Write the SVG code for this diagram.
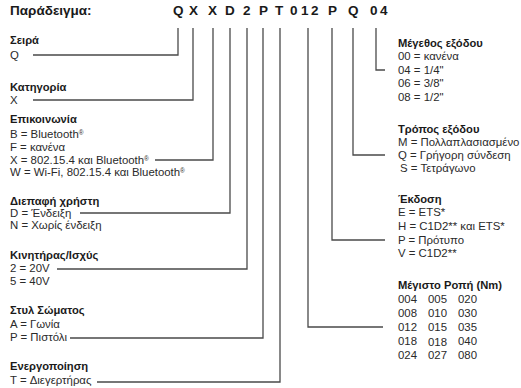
<svg xmlns="http://www.w3.org/2000/svg" width="521" height="388" viewBox="0 0 521 388">
<style>
.h{font-family:"Liberation Sans",Arial,sans-serif;font-weight:bold;font-size:11.2px;fill:#1a1a1a}
.t{font-family:"Liberation Sans",Arial,sans-serif;font-size:11.4px;fill:#2a2a2a}
.big{font-family:"Liberation Sans",Arial,sans-serif;font-weight:bold;font-size:13.5px;fill:#1a1a1a}
.sup{font-size:6.5px}
.c{fill:none;stroke:#4a4a4a;stroke-width:1.3}
</style>
<rect width="521" height="388" fill="#fff"/>
<g id="title">
<text class="big" x="10" y="15">Παράδειγμα:</text>
<text class="big" y="15"><tspan x="173">Q</tspan><tspan x="189">X</tspan><tspan x="208">X</tspan><tspan x="225">D</tspan><tspan x="243">2</tspan><tspan x="259">P</tspan><tspan x="275">T</tspan><tspan x="290">0</tspan><tspan x="301">1</tspan><tspan x="311">2</tspan><tspan x="328">P</tspan><tspan x="348">Q</tspan><tspan x="370">0</tspan><tspan x="380">4</tspan></text>
</g>
<g id="connectors">
<path class="c" d="M178 28V55H33"/>
<path class="c" d="M193 28V100H33"/>
<path class="c" d="M213 28V160H155"/>
<path class="c" d="M230 28V213H80"/>
<path class="c" d="M247 28V269H57"/>
<path class="c" d="M263 28V338H70"/>
<path class="c" d="M280 28V382H97"/>
<path class="c" d="M308 28V327H383"/>
<path class="c" d="M332 28V240H385"/>
<path class="c" d="M353 28V155H385"/>
<path class="c" d="M376 28V70H385"/>
</g>
<g id="seira">
<text class="h" x="10" y="44">Σειρά</text>
<text class="t" x="10" y="59">Q</text>
</g>
<g id="katigoria">
<text class="h" x="10" y="91">Κατηγορία</text>
<text class="t" x="10" y="104">X</text>
</g>
<g id="epikoinonia">
<text class="h" x="10" y="123">Επικοινωνία</text>
<text class="t" x="10" y="138">B = Bluetooth<tspan class="sup" dy="-3">®</tspan></text>
<text class="t" x="10" y="151">F = κανένα</text>
<text class="t" x="10" y="164">X = 802.15.4 και Bluetooth<tspan class="sup" dy="-3">®</tspan></text>
<text class="t" x="10" y="176">W = Wi-Fi, 802.15.4 και Bluetooth<tspan class="sup" dy="-3">®</tspan></text>
</g>
<g id="diepafi">
<text class="h" x="10" y="205">Διεπαφή χρήστη</text>
<text class="t" x="10" y="217">D = Ένδειξη</text>
<text class="t" x="10" y="229">N = Χωρίς ένδειξη</text>
</g>
<g id="kinitiras">
<text class="h" x="10" y="259">Κινητήρας/Ισχύς</text>
<text class="t" x="10" y="272">2 = 20V</text>
<text class="t" x="10" y="285">5 = 40V</text>
</g>
<g id="stil">
<text class="h" x="10" y="314">Στυλ Σώματος</text>
<text class="t" x="10" y="328">A = Γωνία</text>
<text class="t" x="10" y="341">P = Πιστόλι</text>
</g>
<g id="energopoiisi">
<text class="h" x="10" y="370">Ενεργοποίηση</text>
<text class="t" x="10" y="384">T = Διεγερτήρας</text>
</g>
<g id="megethos">
<text class="h" x="398" y="47">Μέγεθος εξόδου</text>
<text class="t" x="398" y="60">00 = κανένα</text>
<text class="t" x="398" y="74">04 = 1/4"</text>
<text class="t" x="398" y="87">06 = 3/8"</text>
<text class="t" x="398" y="101">08 = 1/2"</text>
</g>
<g id="tropos">
<text class="h" x="398" y="133">Τρόπος εξόδου</text>
<text class="t" x="398" y="146">M = Πολλαπλασιασμένο</text>
<text class="t" x="398" y="159">Q = Γρήγορη σύνδεση</text>
<text class="t" x="400" y="172">S = Τετράγωνο</text>
</g>
<g id="ekdosi">
<text class="h" x="398" y="203">Έκδοση</text>
<text class="t" x="398" y="216">E = ETS*</text>
<text class="t" x="398" y="230">H = C1D2** και ETS*</text>
<text class="t" x="398" y="244">P = Πρότυπο</text>
<text class="t" x="398" y="257">V = C1D2**</text>
</g>
<g id="ropi">
<text class="h" x="398" y="289">Μέγιστο Ροπή (Nm)</text>
<text class="t" y="303"><tspan x="398">004</tspan><tspan x="428">005</tspan><tspan x="458">020</tspan></text>
<text class="t" y="317"><tspan x="398">008</tspan><tspan x="428">010</tspan><tspan x="458">030</tspan></text>
<text class="t" y="331"><tspan x="398">012</tspan><tspan x="428">015</tspan><tspan x="458">035</tspan></text>
<text class="t" y="345"><tspan x="398">018</tspan><tspan x="428" dy="1">018</tspan><tspan x="458" dy="-1">040</tspan></text>
<text class="t" y="359"><tspan x="398">024</tspan><tspan x="428">027</tspan><tspan x="458">080</tspan></text>
</g>
</svg>
